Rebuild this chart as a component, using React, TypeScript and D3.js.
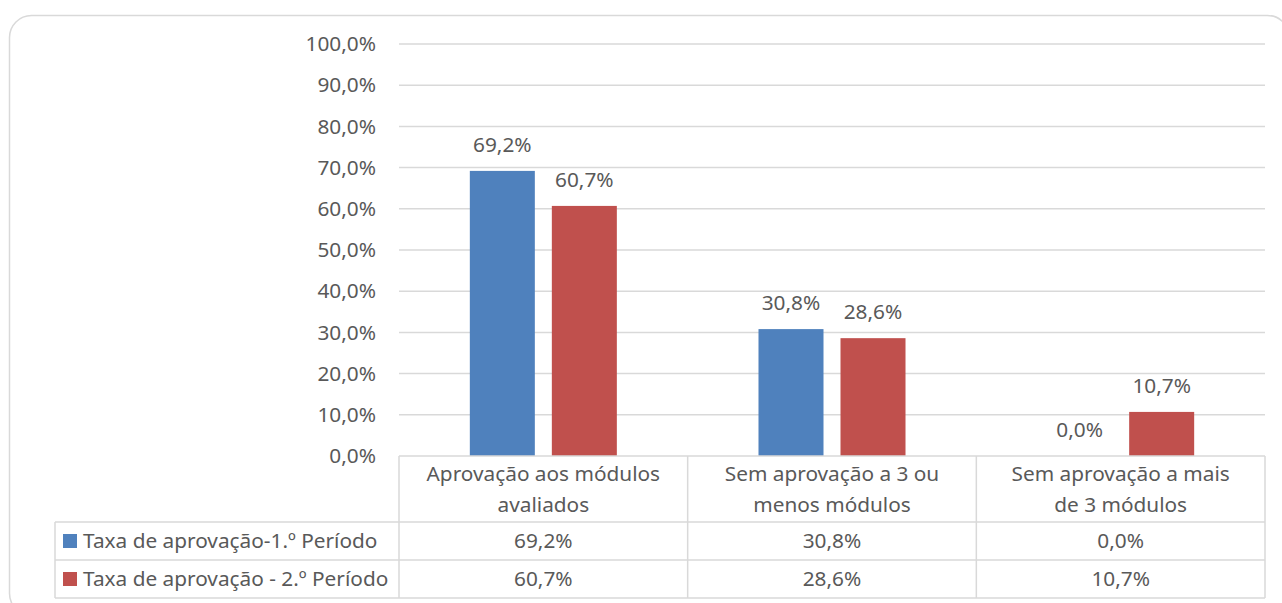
import React from 'react';
import * as d3 from 'd3';

// data
const categories = ['Aprovação aos módulos|avaliados', 'Sem aprovação a 3 ou|menos módulos', 'Sem aprovação a mais|de 3 módulos'];
const seriesNames = ['Taxa de aprovação-1.º Período', 'Taxa de aprovação - 2.º Período'];
const period1 = [69.2, 30.8, 0.0];
const period2 = [60.7, 28.6, 10.7];
const yTicks = [0, 10, 20, 30, 40, 50, 60, 70, 80, 90, 100];
const colors = ['#4f81bd', '#c0504d'];

const fmt = (v: number) => v.toFixed(1).replace('.', ',') + '%';

const App: React.FC = () => {
  const width = 1282;
  const height = 603;
  const left = 399, right = 1265, top = 44, bottom = 456;
  const rowTops = [456, 522, 560, 598];
  const legendLeft = 55;
  const font = '"Noto Sans", "Liberation Sans", sans-serif';
  const fs = 20.8;
  const textColor = '#595959';
  const lineColor = '#d9d9d9';

  const series = [period1, period2];

  const x = d3.scaleBand<number>().domain(d3.range(categories.length)).range([left, right]).padding(0);
  const inner = d3.scaleBand<number>().domain([0, 1]).range([0, x.bandwidth()])
    .paddingInner(0.2073).paddingOuter(0.8637);
  const y = d3.scaleLinear().domain([0, 100]).range([bottom, top]);

  return (
    <svg width={width} height={height} style={{ position: 'absolute', left: 0, top: 0, background: '#fff' }}
      fontFamily={font} fontSize={fs} fill={textColor}>
      <rect x={9.5} y={15.5} width={1280} height={600} rx={22} fill="#fff" stroke={lineColor} strokeWidth={1.5} />

      {yTicks.map(t => (
        <g key={t}>
          {t > 0 && <line x1={left} x2={right} y1={y(t)} y2={y(t)} stroke={lineColor} strokeWidth={1.5} />}
          <text x={376} y={y(t)} dy="0.35em" textAnchor="end">{fmt(t)}</text>
        </g>
      ))}

      {series.map((vals, s) => vals.map((v, i) => {
        const bx = (x(i) as number) + (inner(s) as number);
        return (
          <g key={`${s}-${i}`}>
            <rect x={bx} y={y(v)} width={inner.bandwidth()} height={y(0) - y(v)} fill={colors[s]} />
            <text x={bx + inner.bandwidth() / 2} y={y(v) - 19} textAnchor="middle">{fmt(v)}</text>
          </g>
        );
      }))}

      {/* data table */}
      <g stroke={lineColor} strokeWidth={1.5}>
        <line x1={left} x2={right} y1={bottom} y2={bottom} />
        {rowTops.slice(1).map(r => <line key={r} x1={legendLeft} x2={right} y1={r} y2={r} />)}
        <line x1={legendLeft} x2={legendLeft} y1={rowTops[1]} y2={rowTops[3]} />
        {d3.range(categories.length + 1).map(i => {
          const xx = i < categories.length ? (x(i) as number) : right;
          return <line key={i} x1={xx} x2={xx} y1={bottom} y2={rowTops[3]} />;
        })}
      </g>

      {categories.map((c, i) => {
        const cx = (x(i) as number) + x.bandwidth() / 2;
        const lines = c.split('|');
        return (
          <g key={c}>
            {lines.map((l, j) => (
              <text key={j} x={cx} y={474 + j * 31} dy="0.35em" textAnchor="middle">{l}</text>
            ))}
            {series.map((vals, s) => (
              <text key={s} x={cx} y={(rowTops[s + 1] + rowTops[s + 2]) / 2} dy="0.35em" textAnchor="middle">{fmt(vals[i])}</text>
            ))}
          </g>
        );
      })}

      {seriesNames.map((n, s) => {
        const cy = (rowTops[s + 1] + rowTops[s + 2]) / 2;
        return (
          <g key={n}>
            <rect x={63} y={cy - 7} width={14} height={14} fill={colors[s]} />
            <text x={83} y={cy} dy="0.35em">{n}</text>
          </g>
        );
      })}
    </svg>
  );
};

export default App;
